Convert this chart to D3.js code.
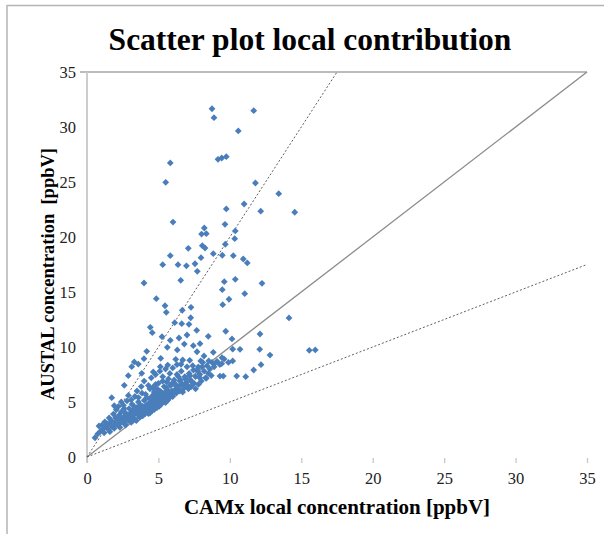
<!DOCTYPE html>
<html>
<head>
<meta charset="utf-8">
<script src="https://cdn.jsdelivr.net/npm/d3@7"></script>
<style>
  html, body { margin: 0; padding: 0; background: #fff; }
  svg { display: block; }
</style>
</head>
<body>
<svg id="chart" width="604" height="534"></svg>
<script>
// Axis settings and tick values
const xDomain = [0, 35];
const yDomain = [0, 35];
const xTicks = [0, 5, 10, 15, 20, 25, 30, 35];
const yTicks = [0, 5, 10, 15, 20, 25, 30, 35];

// Reference lines: 1:1 (solid), 2:1 and 1:2 (dotted)
const refLines = [
  { slope: 1, dotted: false },
  { slope: 2, dotted: true },
  { slope: 0.5, dotted: true }
];

// CAMx local concentration [ppbV]
const camx = [
  8.75, 8.89, 11.67, 10.59, 9.17, 9.43, 9.75, 5.83, 5.51, 11.79,
  13.42, 11.0, 9.75, 12.16, 14.54, 6.02, 8.21, 8.02, 8.35, 9.66,
  10.38, 10.34, 9.68, 8.07, 8.26, 7.09, 5.83, 8.84, 9.47, 10.24,
  7.98, 10.94, 11.22, 5.3, 6.37, 6.96, 7.56, 7.72, 3.99, 6.56,
  9.61, 10.38, 12.25, 9.47, 11.04, 4.85, 9.94, 9.5, 5.46, 7.28,
  5.55, 6.67, 7.26, 6.14, 6.63, 7.14, 4.43, 4.57, 7.68, 5.25,
  6.44, 7.0, 9.71, 8.49, 10.15, 12.11, 5.83, 6.81, 7.44, 5.62,
  10.71, 12.09, 4.18, 6.32, 7.7, 8.84, 12.81, 5.16, 3.99, 6.21,
  6.7, 7.19, 7.96, 8.52, 10.2, 3.31, 3.59, 9.45, 3.13, 5.13,
  5.65, 6.58, 7.79, 8.89, 9.43, 12.18, 11.67, 2.89, 3.83, 4.64,
  8.35, 9.31, 9.54, 10.48, 11.11, 2.61, 1.73, 1.91, 0.84, 0.56,
  14.14, 15.56, 15.98, 8.19, 10.2, 7.91,
  0.75, 0.95, 1.05, 1.15, 1.25, 1.3, 1.45, 1.5, 1.55, 1.65,
  1.7, 1.8, 1.85, 1.95, 2.0, 2.05, 2.1, 2.2, 2.25, 2.3,
  2.4, 2.45, 2.5, 2.55, 2.6, 2.65, 2.7, 2.75, 2.8, 2.85,
  2.9, 2.95, 3.0, 3.05, 3.1, 3.15, 3.2, 3.25, 3.3, 3.35,
  3.4, 3.45, 3.5, 3.55, 3.6, 3.65, 3.7, 3.75, 3.8, 3.85,
  3.9, 3.95, 4.0, 4.05, 4.1, 4.15, 4.2, 4.25, 4.3, 4.35,
  4.4, 4.45, 4.5, 4.55, 4.6, 4.65, 4.7, 4.75, 4.8, 4.85,
  4.9, 4.95, 5.0, 5.05, 5.1, 5.15, 5.2, 5.25, 5.3, 5.35,
  5.4, 5.45, 5.5, 5.55, 5.6, 5.65, 5.7, 5.75, 5.8, 5.85,
  5.9, 5.95, 6.0, 6.05, 6.15, 6.25, 6.3, 6.4, 6.5, 6.55,
  6.65, 6.75, 6.85, 6.95, 7.05, 7.15, 7.25, 7.35, 7.45, 7.6,
  7.75, 7.9, 8.05, 8.2, 8.4, 8.6, 8.75, 8.9, 9.1, 9.3,
  9.6, 9.9, 3.4, 3.9, 4.6, 5.0, 5.6, 6.2, 6.9, 7.7,
  2.2, 2.4, 2.6, 2.9, 3.1, 3.3, 3.5, 3.6, 3.8, 4.0,
  4.1, 4.3, 4.4, 4.5, 4.6, 4.7, 4.8, 4.9, 5.0, 5.1,
  5.2, 5.3, 5.4, 5.5, 5.6, 5.7, 5.8, 5.9, 6.0, 6.1,
  6.2, 6.3, 6.4, 6.5, 6.6, 6.7, 6.8, 6.9, 7.0, 7.1,
  7.2, 7.3, 7.4, 7.5, 7.6, 7.8, 7.9, 8.0, 8.1, 8.3,
  8.5, 8.7, 3.7, 4.2, 4.9, 5.3, 3.2, 2.7, 4.4, 4.7,
  5.6, 6.1, 6.4, 6.9, 1.6, 1.9, 2.3, 1.2
];

// AUSTAL concentration [ppbV]
const austal = [
  31.66, 30.85, 31.48, 29.64, 27.06, 27.18, 27.3, 26.73, 24.97, 24.91,
  23.94, 23.0, 22.55, 22.35, 22.25, 21.36, 20.82, 20.27, 20.3, 21.15,
  20.55, 19.85, 19.34, 19.21, 19.0, 18.97, 18.3, 18.48, 18.34, 18.3,
  18.12, 18.0, 17.64, 17.48, 17.48, 17.38, 17.57, 16.88, 15.82, 16.06,
  15.94, 16.15, 15.79, 15.21, 14.85, 14.39, 14.34, 13.85, 13.75, 13.61,
  13.15, 13.34, 12.66, 12.21, 12.12, 12.06, 11.79, 11.3, 11.52, 10.94,
  10.82, 11.09, 11.43, 10.97, 10.73, 11.18, 10.61, 10.27, 10.12, 9.97,
  9.79, 9.79, 9.61, 9.73, 9.57, 9.52, 9.27, 8.97, 8.94, 8.88,
  8.82, 8.79, 8.73, 8.73, 8.73, 8.64, 8.45, 9.03, 8.21, 8.21,
  8.36, 8.43, 8.18, 8.45, 8.48, 8.39, 7.91, 7.39, 7.61, 7.73,
  7.15, 7.36, 7.36, 7.36, 7.3, 6.52, 5.39, 4.66, 2.82, 1.75,
  12.64, 9.7, 9.73, 9.18, 9.8, 10.3,
  2.1, 2.35, 2.9, 2.55, 3.2, 2.75, 3.0, 2.5, 3.55, 2.9,
  3.3, 2.75, 3.9, 3.1, 3.55, 4.3, 2.95, 3.35, 3.8, 3.05,
  4.1, 3.5, 3.25, 4.7, 3.7, 3.0, 4.0, 3.45, 5.1, 3.8,
  3.3, 4.4, 3.6, 4.0, 3.15, 4.8, 3.75, 4.25, 3.5, 5.5,
  4.0, 3.3, 4.5, 3.85, 5.0, 4.15, 3.6, 4.7, 4.0, 5.8,
  3.75, 4.35, 5.15, 3.9, 4.6, 4.1, 5.4, 4.35, 3.95, 4.85,
  6.2, 4.5, 5.1, 4.2, 5.6, 4.7, 4.3, 5.3, 6.6, 4.9,
  4.5, 5.7, 5.0, 4.6, 6.0, 5.2, 4.8, 5.5, 6.9, 5.05,
  5.8, 5.3, 4.95, 6.3, 5.5, 5.15, 7.1, 5.8, 5.4, 6.5,
  5.7, 6.0, 5.5, 6.8, 6.1, 5.8, 7.5, 6.4, 6.0, 7.0,
  6.6, 6.2, 7.3, 6.8, 6.5, 7.6, 7.0, 6.8, 7.9, 7.3,
  7.8, 7.5, 8.2, 7.8, 8.3, 8.0, 8.6, 8.2, 8.7, 8.4,
  8.9, 8.6, 4.3, 4.6, 5.2, 5.6, 6.1, 6.6, 7.2, 7.9,
  4.6, 5.0, 4.4, 5.6, 5.2, 4.6, 6.0, 5.4, 6.4, 6.9,
  5.7, 6.5, 5.3, 7.2, 6.3, 5.9, 7.5, 6.2, 6.7, 7.8,
  5.9, 7.3, 6.4, 8.0, 6.8, 6.0, 7.6, 6.6, 8.1, 7.0,
  6.5, 8.4, 7.3, 6.9, 7.8, 5.9, 6.4, 7.1, 8.2, 6.2,
  7.4, 6.4, 8.3, 6.7, 6.2, 6.6, 7.2, 6.9, 8.6, 7.2,
  7.6, 7.4, 4.4, 4.8, 5.4, 5.7, 3.3, 2.9, 4.0, 4.8,
  5.4, 5.9, 6.2, 6.5, 2.3, 2.6, 2.7, 2.2
];

const svg = d3.select("#chart");
const W = 604, H = 534;
const plot = { left: 87, right: 587, top: 72, bottom: 457 };

const x = d3.scaleLinear().domain(xDomain).range([plot.left, plot.right]);
const y = d3.scaleLinear().domain(yDomain).range([plot.bottom, plot.top]);

const serif = "'Liberation Serif', 'Times New Roman', serif";

// Outer frame (top and left edges)
svg.append("line").attr("x1", 7).attr("y1", 5.5).attr("x2", W).attr("y2", 5.5)
  .attr("stroke", "#b4b4b4").attr("stroke-width", 1.5);
svg.append("line").attr("x1", 7).attr("y1", 5).attr("x2", 7).attr("y2", H)
  .attr("stroke", "#b4b4b4").attr("stroke-width", 1.5);

// Title
svg.append("text")
  .attr("x", 310).attr("y", 50)
  .attr("text-anchor", "middle")
  .attr("font-family", serif)
  .attr("font-weight", "bold")
  .attr("font-size", 31.5)
  .attr("fill", "#000")
  .text("Scatter plot local contribution");

// Top border of the plot area
svg.append("line")
  .attr("x1", plot.left - 7).attr("x2", plot.right)
  .attr("y1", y(35)).attr("y2", y(35))
  .attr("stroke", "#a6a6a6").attr("stroke-width", 1.3);

// Y axis line
svg.append("line")
  .attr("x1", plot.left).attr("x2", plot.left)
  .attr("y1", plot.top).attr("y2", plot.bottom + 6)
  .attr("stroke", "#c8c8c8").attr("stroke-width", 1.8);

// X axis (ticks only, below the plot)
const xAxis = d3.axisBottom(x).tickValues(xTicks).tickSize(5).tickPadding(9);
const gx = svg.append("g")
  .attr("transform", `translate(0,${plot.bottom + 1})`)
  .call(xAxis);
gx.select(".domain").remove();
gx.selectAll(".tick line").attr("stroke", "#c8c8c8").attr("stroke-width", 1.3);
gx.selectAll(".tick text")
  .attr("font-family", serif)
  .attr("font-size", 16.5).attr("fill", "#222");

// Y axis labels
const yAxis = d3.axisLeft(y).tickValues(yTicks).tickSize(0).tickPadding(11);
const gy = svg.append("g")
  .attr("transform", `translate(${plot.left},0)`)
  .call(yAxis);
gy.select(".domain").remove();
gy.selectAll(".tick text")
  .attr("font-family", serif)
  .attr("font-size", 16.5).attr("fill", "#222");

// Reference lines through the origin
refLines.forEach(r => {
  const xEnd = Math.min(xDomain[1], yDomain[1] / r.slope);
  const line = svg.append("line")
    .attr("x1", x(0)).attr("y1", y(0))
    .attr("x2", x(xEnd)).attr("y2", y(xEnd * r.slope))
    .attr("fill", "none");
  if (r.dotted) {
    line.attr("stroke", "#606060").attr("stroke-width", 1).attr("stroke-dasharray", "2,2");
  } else {
    line.attr("stroke", "#8c8c8c").attr("stroke-width", 1.3);
  }
});

// Scatter points as diamonds
const pts = camx.map((v, i) => [v, austal[i]]);
const diamond = "M0,-3.4L3.4,0L0,3.4L-3.4,0Z";
svg.append("g").selectAll("path")
  .data(pts)
  .join("path")
  .attr("d", diamond)
  .attr("transform", d => `translate(${x(d[0])},${y(d[1])})`)
  .attr("fill", "#4a7ebb");

// Axis titles
svg.append("text")
  .attr("x", (plot.left + plot.right) / 2).attr("y", 514)
  .attr("text-anchor", "middle")
  .attr("font-family", serif)
  .attr("font-weight", "bold")
  .attr("font-size", 21)
  .attr("fill", "#000")
  .text("CAMx local concentration [ppbV]");

svg.append("text")
  .attr("transform", `translate(54,274) rotate(-90)`)
  .attr("text-anchor", "middle")
  .attr("font-family", serif)
  .attr("font-weight", "bold")
  .attr("font-size", 18.5)
  .attr("fill", "#000")
  .attr("xml:space", "preserve")
  .style("white-space", "pre")
  .text("AUSTAL concentration  [ppbV]");
</script>
</body>
</html>
